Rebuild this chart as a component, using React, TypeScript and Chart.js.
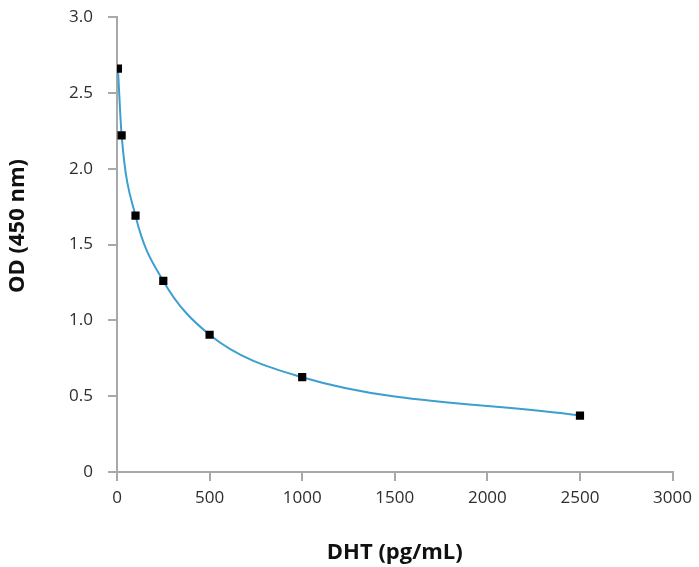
import React, { useEffect, useRef } from "react";
import { Chart, registerables } from "chart.js";

Chart.register(...registerables);

const concentrations = [5, 25, 100, 250, 500, 1000, 2500];
const odValues = [2.66, 2.22, 1.69, 1.26, 0.905, 0.625, 0.372];
const xTicks = [0, 500, 1000, 1500, 2000, 2500, 3000];
const yTicks = [0, 0.5, 1.0, 1.5, 2.0, 2.5, 3.0];
const xTitle = "DHT (pg/mL)";
const yTitle = "OD (450 nm)";

const AXIS_GREY = "#a9a9a9";
const TEXT = "#2e2e2e";
const FONT = "'Open Sans', 'Noto Sans', sans-serif";
const TITLE_FONT = "bold 22px 'Open Sans', 'Noto Sans', sans-serif";

const yTitlePlugin = {
  id: "yTitle",
  afterDraw(chart: any) {
    const ctx = chart.ctx;
    ctx.save();
    ctx.translate(18, 226);
    ctx.rotate(-Math.PI / 2);
    ctx.font = TITLE_FONT;
    ctx.fillStyle = "#111";
    ctx.textAlign = "center";
    ctx.textBaseline = "middle";
    ctx.fillText(yTitle, 0, 0);
    ctx.restore();
  },
};

export default function App() {
  const ref = useRef<HTMLCanvasElement | null>(null);

  useEffect(() => {
    if (!ref.current) return;
    const chart = new Chart(ref.current, {
      type: "line",
      data: {
        datasets: [
          {
            label: "OD",
            data: concentrations.map((x, i) => ({ x, y: odValues[i] })),
            borderColor: "#3d9fcf",
            borderWidth: 2,
            cubicInterpolationMode: "monotone",
            pointStyle: "rect",
            pointRadius: 5.8,
            pointBackgroundColor: "#000000",
            pointBorderColor: "#000000",
            pointBorderWidth: 0,
            fill: false,
          },
        ],
      },
      plugins: [yTitlePlugin],
      options: {
        animation: false,
        responsive: false,
        maintainAspectRatio: false,
        layout: { padding: { left: 0, top: 17, right: 24, bottom: 0 } },
        plugins: { legend: { display: false }, tooltip: { enabled: false } },
        scales: {
          x: {
            type: "linear",
            min: 0,
            max: 3000,
            afterFit: (s: any) => {
              s.height = 95;
            },
            afterBuildTicks: (s: any) => {
              s.ticks = xTicks.map((v) => ({ value: v }));
            },
            ticks: {
              color: TEXT,
              font: { family: FONT, size: 17 },
              padding: 7,
              maxRotation: 0,
              callback: (v: any) => String(v),
            },
            grid: {
              drawOnChartArea: false,
              drawTicks: true,
              tickLength: 9,
              color: AXIS_GREY,
              lineWidth: 2,
            },
            border: { color: AXIS_GREY, width: 2 },
            title: {
              display: true,
              text: xTitle,
              color: "#111",
              font: { family: FONT, size: 22, weight: "bold" },
              padding: { top: 0, bottom: 1 },
            },
          },
          y: {
            type: "linear",
            min: 0,
            max: 3,
            afterFit: (s: any) => {
              s.width = 117;
              s.paddingTop = 0;
              s.paddingBottom = 0;
            },
            afterBuildTicks: (s: any) => {
              s.ticks = yTicks.map((v) => ({ value: v }));
            },
            ticks: {
              color: TEXT,
              font: { family: FONT, size: 17 },
              padding: 15,
              callback: (v: any) => (v === 0 ? "0" : Number(v).toFixed(1)),
            },
            grid: {
              drawOnChartArea: false,
              drawTicks: true,
              tickLength: 9,
              color: AXIS_GREY,
              lineWidth: 2,
            },
            border: { color: AXIS_GREY, width: 2 },
            title: { display: false, text: yTitle },
          },
        },
      },
    });
    return () => chart.destroy();
  }, []);

  return (
    <div style={{ position: "fixed", left: 0, top: 0, width: 699, height: 567, background: "#fff" }}>
      <canvas ref={ref} width={699} height={567} style={{ width: 699, height: 567 }} />
    </div>
  );
}
